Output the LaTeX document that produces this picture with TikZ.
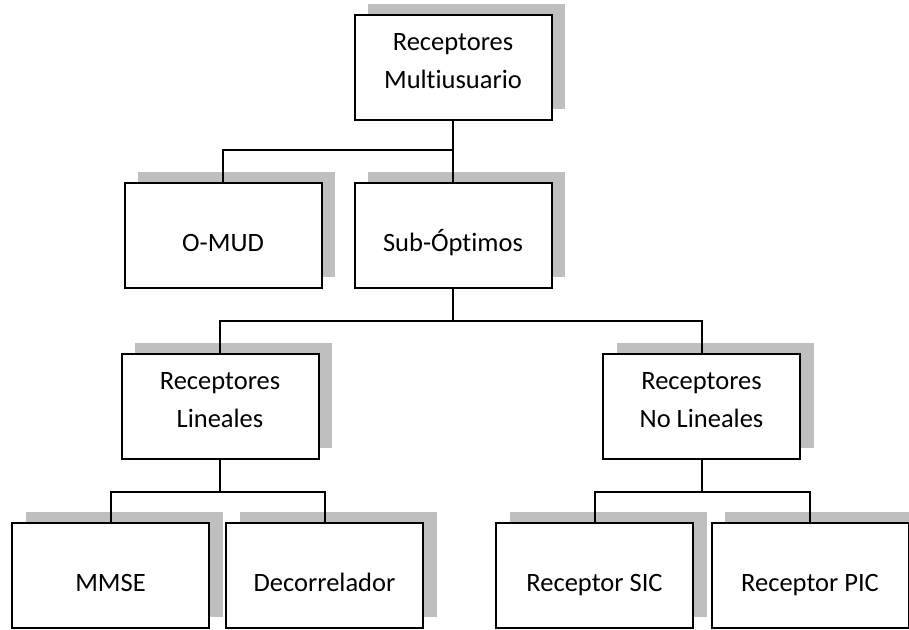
\documentclass[tikz,border=0pt]{standalone}
\usepackage{fontspec}
\setmainfont{Carlito}[Ligatures=NoCommon]
\usetikzlibrary{shadows}
\begin{document}
\begin{tikzpicture}[x=1pt,y=-1pt,
  box/.style={draw, line width=2pt, fill=white, minimum width=197pt,
    minimum height=105pt, inner sep=0pt,
    font=\fontsize{26.5pt}{38pt}\selectfont,
    drop shadow={shadow xshift=13.5pt, shadow yshift=11pt, fill=black!25, opacity=1}},
  oneline/.style={box, text height=32pt, text depth=0pt},
  twoline/.style={box, align=center, text height=42pt, text depth=0pt},
  link/.style={line width=2pt}]
\useasboundingbox (0,0) rectangle (909,629);

% level 0
\node[twoline] (top) at (453,67.5) {Receptores\\Multiusuario};
% level 1
\node[oneline] (omud) at (223,235.5) {O-MUD};
\node[oneline] (sub) at (453,235.5) {Sub-Óptimos};
% level 2
\node[twoline] (lin) at (220,406) {Receptores\\Lineales};
\node[twoline] (nolin) at (701.5,406) {Receptores\\No Lineales};
% level 3
\node[oneline] (mmse) at (110.5,575.5) {MMSE};
\node[oneline] (dec) at (324.5,575.5) {Decorrelador};
\node[oneline] (sic) at (594.5,575.5) {Receptor SIC};
\node[oneline] (pic) at (810,575.5) {Receptor PIC};

% bus junctions
\coordinate (b1) at (453,150);
\coordinate (b2) at (453,321);
\coordinate (b3) at (220,492);
\coordinate (b4) at (701.5,492);

\draw[link] (top.south) -- (sub.north);
\draw[link] (omud.north) |- (b1);
\draw[link] (sub.south) -- (b2);
\draw[link] (lin.north) |- (b2) -| (nolin.north);
\draw[link] (lin.south) -- (b3);
\draw[link] (mmse.north) |- (b3) -| (dec.north);
\draw[link] (nolin.south) -- (b4);
\draw[link] (sic.north) |- (b4) -| (pic.north);
\end{tikzpicture}
\end{document}
